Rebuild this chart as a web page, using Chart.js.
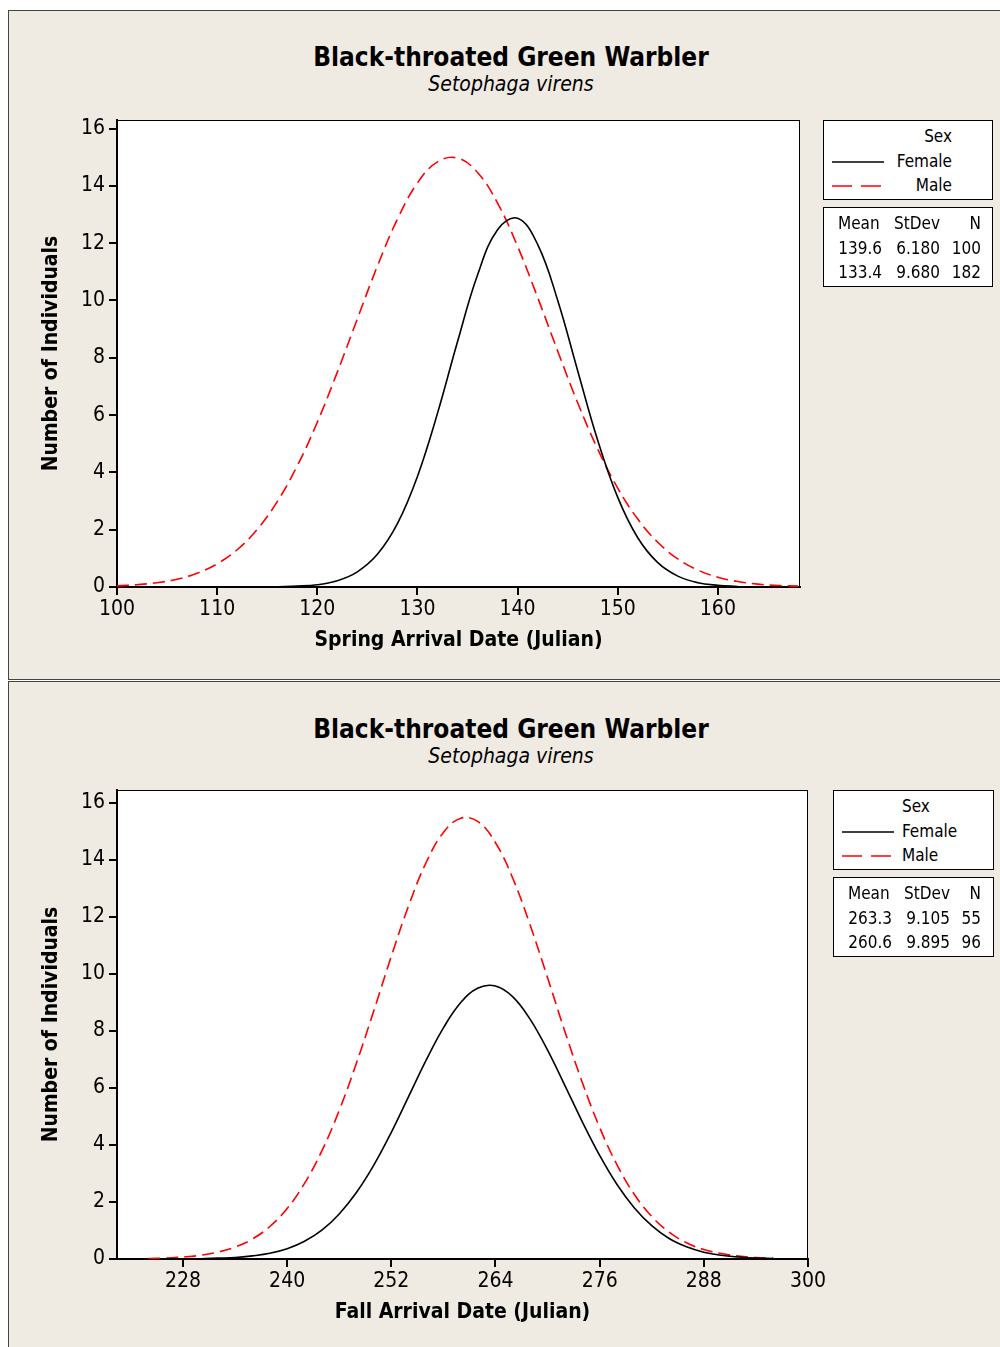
<!DOCTYPE html>
<html>
<head>
<meta charset="utf-8">
<script src="https://cdn.jsdelivr.net/npm/chart.js@4/dist/chart.umd.min.js"></script>
<style>
  body { margin: 0; background: #fff; width: 1000px; height: 1347px; overflow: hidden; position: relative;
         font-family: "DejaVu Sans Condensed", "DejaVu Sans", sans-serif; color: #000; }
  .panel { position: absolute; left: 8px; width: 1000px; background: #efebe2; border: 1px solid #444; box-sizing: border-box; }
  .title { position: absolute; left: 0; width: 1022px; text-align: center; font-weight: bold; font-size: 26px; }
  .sub { position: absolute; left: 0; width: 1022px; text-align: center; font-style: italic; font-size: 21px; }
  canvas { position: absolute; left: 0; }
  .box { position: absolute; background: #fff; border: 1px solid #000; box-sizing: border-box; font-size: 17px; }
  .box div { position: absolute; white-space: nowrap; }
  .box svg { position: absolute; }
</style>
</head>
<body>
<div class="panel" style="top:10px;height:670px"></div>
<div class="panel" style="top:681px;height:680px"></div>

<div class="title" style="top:42px">Black-throated Green Warbler</div>
<div class="sub" style="top:72px">Setophaga virens</div>
<div class="title" style="top:714px">Black-throated Green Warbler</div>
<div class="sub" style="top:744px">Setophaga virens</div>

<canvas id="spring" width="1000" height="680" style="top:0"></canvas>
<canvas id="fall" width="1000" height="667" style="top:680px"></canvas>

<div id="legend1"></div>
<div id="legend2"></div>

<script>
// spring arrival, values every 2 days
const springX = [100,102,104,106,108,110,112,114,116,118,120,122,124,126,128,130,132,134,
                 136,138,140,142,144,146,148,150,152,154,156,158,160,162,164,166,168];
const springFemale = [null,null,null,null,null,null,null,null,0.01,0.03,0.08,0.22,0.53,1.14,2.21,3.86,6.06,8.56,
                      10.89,12.47,12.87,11.96,10.01,7.55,5.12,3.13,1.72,0.85,0.38,0.15,0.06,0.02,null,null,null];
const springMale = [0.04,0.08,0.15,0.27,0.48,0.81,1.30,2.01,2.98,4.23,5.75,7.50,9.36,11.20,12.84,14.10,14.84,14.97,
                    14.47,13.40,11.89,10.11,8.24,6.43,4.81,3.45,2.37,1.56,0.98,0.59,0.34,0.19,0.10,0.05,0.03];

// fall arrival
const fallX = [224,226,228,230,232,234,236,238,240,242,244,246,248,250,252,254,256,258,260,
               262,264,266,268,270,272,274,276,278,280,282,284,286,288,290,292,294,296,298];
const fallFemale = [null,0.00,0.01,0.01,0.03,0.05,0.11,0.20,0.36,0.62,1.01,1.58,2.34,3.30,4.44,5.70,6.96,8.10,8.99,
                    9.50,9.57,9.19,8.40,7.32,6.08,4.81,3.63,2.61,1.79,1.17,0.72,0.43,0.24,0.13,0.07,0.03,0.02,null];
const fallMale = [0.02,0.03,0.07,0.13,0.24,0.42,0.70,1.14,1.77,2.65,3.79,5.21,6.88,8.72,10.61,12.39,13.89,14.95,15.45,
                  15.33,14.59,13.34,11.70,9.86,7.97,6.19,4.61,3.30,2.26,1.49,0.94,0.57,0.33,0.19,0.10,0.05,0.03,null];

const yTicks = [0, 2, 4, 6, 8, 10, 12, 14, 16];
const springTicks = [100, 110, 120, 130, 140, 150, 160];
const fallTicks = [228, 240, 252, 264, 276, 288, 300];

const sexes = ['Female', 'Male'];
const springStats = [['139.6', '6.180', '100'], ['133.4', '9.680', '182']];
const fallStats = [['263.3', '9.105', '55'], ['260.6', '9.895', '96']];

const FONT = '"DejaVu Sans Condensed", "DejaVu Sans", sans-serif';

// white plot area with a thin frame
const plotFrame = {
    id: 'plotFrame',
    beforeDatasetsDraw(chart) {
        const a = chart.chartArea, ctx = chart.ctx;
        ctx.save();
        ctx.fillStyle = '#fff';
        ctx.fillRect(a.left, a.top, a.right - a.left, a.bottom - a.top);
        ctx.strokeStyle = '#000';
        ctx.lineWidth = 1;
        ctx.strokeRect(a.left + 0.5, a.top + 0.5, a.right - a.left - 1, a.bottom - a.top - 1);
        ctx.restore();
    }
};

function points(xs, ys) {
    return xs.map((x, i) => ({ x: x, y: ys[i] }));
}

function makeChart(id, xs, female, male, xMin, xMax, yMax, ticks, xTitle, pad) {
    new Chart(document.getElementById(id), {
        type: 'line',
        data: {
            datasets: [{
                label: 'Female',
                data: points(xs, female),
                borderColor: '#000',
                borderWidth: 1.6,
                pointRadius: 0,
                tension: 0.4,
                spanGaps: false
            }, {
                label: 'Male',
                data: points(xs, male),
                borderColor: '#ff0000',
                borderWidth: 1.6,
                borderDash: [12, 6],
                pointRadius: 0,
                tension: 0.4
            }]
        },
        options: {
            responsive: false,
            animation: false,
            layout: { padding: pad },
            plugins: { legend: { display: false }, tooltip: { enabled: false } },
            scales: {
                x: {
                    type: 'linear',
                    min: xMin,
                    max: xMax,
                    afterBuildTicks: s => { s.ticks = ticks.map(v => ({ value: v })); },
                    afterFit: s => { s.height = 80; },
                    grid: { drawOnChartArea: false, drawTicks: true, tickLength: 8, color: '#000', lineWidth: 2 },
                    border: { color: '#000', width: 2 },
                    ticks: { color: '#000', font: { family: FONT, size: 21 }, padding: 2, maxRotation: 0 },
                    title: { display: true, text: xTitle, color: '#000',
                             font: { family: FONT, size: 21, weight: 'bold' }, padding: { top: 0, bottom: 14 } }
                },
                y: {
                    min: 0,
                    max: yMax,
                    afterBuildTicks: s => { s.ticks = yTicks.map(v => ({ value: v })); },
                    afterFit: s => { s.width = 117; },
                    grid: { drawOnChartArea: false, drawTicks: true, tickLength: 8, color: '#000', lineWidth: 2 },
                    border: { color: '#000', width: 2 },
                    ticks: { color: '#000', font: { family: FONT, size: 21 }, padding: 4 },
                    title: { display: true, text: 'Number of Individuals', color: '#000',
                             font: { family: FONT, size: 21, weight: 'bold' }, padding: { top: 39, bottom: 0 } }
                }
            }
        },
        plugins: [plotFrame]
    });
}

makeChart('spring', springX, springFemale, springMale, 100, 168.2, 16.3, springTicks,
          'Spring Arrival Date (Julian)', { top: 120, right: 200, bottom: 13, left: 0 });
makeChart('fall', fallX, fallFemale, fallMale, 220.4, 300, 16.44, fallTicks,
          'Fall Arrival Date (Julian)', { top: 110, right: 192, bottom: 8, left: 0 });

// legend + stats boxes
function lineSample(dashed, y) {
    return '<svg style="left:8px;top:' + y + 'px" width="52" height="4"><line x1="0" y1="2" x2="52" y2="2" stroke="' +
        (dashed ? '#ff0000' : '#000') + '" stroke-width="1.6"' +
        (dashed ? ' stroke-dasharray="20 9"' : '') + '/></svg>';
}

function buildLegend(el, left, top, width, textX, align, stats, nRight) {
    const h = 80, gap = 7;
    let html = '<div class="box" style="left:' + left + 'px;top:' + top + 'px;width:' + width + 'px;height:' + h + 'px">';
    const labels = ['Sex'].concat(sexes);
    labels.forEach((t, i) => {
        const y = 5 + i * 24.5;
        if (align === 'right') html += '<div style="right:' + textX + 'px;top:' + y + 'px">' + t + '</div>';
        else html += '<div style="left:' + textX + 'px;top:' + y + 'px">' + t + '</div>';
        if (i > 0) html += lineSample(i === 2, y + 9);
    });
    html += '</div>';
    html += '<div class="box" style="left:' + left + 'px;top:' + (top + h + gap) + 'px;width:' + width + 'px;height:' + h + 'px">';
    const rows = [['Mean', 'StDev', 'N']].concat(stats);
    rows.forEach((r, i) => {
        const y = 5 + i * 24.5;
        html += '<div style="left:14px;top:' + y + 'px;width:44px;text-align:' + (i ? 'right' : 'left') + '">' + r[0] + '</div>';
        html += '<div style="left:68px;top:' + y + 'px;width:48px;text-align:right">' + r[1] + '</div>';
        html += '<div style="left:' + (nRight - 36) + 'px;top:' + y + 'px;width:36px;text-align:right">' + r[2] + '</div>';
    });
    html += '</div>';
    el.innerHTML = html;
}

buildLegend(document.getElementById('legend1'), 823, 120, 170, 40, 'right', springStats, 157);
buildLegend(document.getElementById('legend2'), 833, 790, 161, 68, 'left', fallStats, 147);
</script>
</body>
</html>
